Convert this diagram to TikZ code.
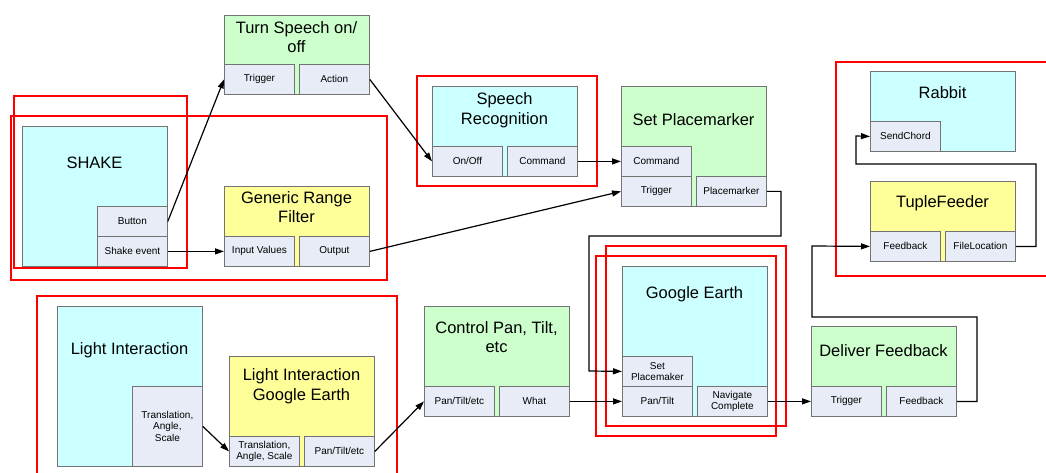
\documentclass[tikz,border=0pt]{standalone}
\usepackage{fontspec}
\setmainfont{Liberation Sans}
\usetikzlibrary{arrows.meta, positioning}

\definecolor{boxline}{RGB}{115,115,115}
\definecolor{cyanfill}{RGB}{204,255,255}
\definecolor{greenfill}{RGB}{204,255,204}
\definecolor{yellowfill}{RGB}{255,255,153}
\definecolor{portfill}{RGB}{231,236,246}

\begin{document}
\begin{tikzpicture}[x=1pt, y=-1pt,
    module/.style={draw=boxline, line width=0.8pt, anchor=north west, minimum width=145pt, inner sep=0pt},
    port/.style={draw=boxline, line width=0.8pt, fill=portfill, anchor=north west, minimum width=70pt, minimum height=30pt, inner sep=1pt, align=center, font=\fontsize{10}{11.5}\selectfont},
    title/.style={align=center, font=\fontsize{16.5}{19.5}\selectfont, inner sep=0pt},
    link/.style={-{Triangle[length=9pt,width=6pt]}, line width=1.2pt},
    frame/.style={draw=red, line width=1.2pt}]
    \useasboundingbox (0,0) rectangle (1046,473);
    \clip (0,0) rectangle (1046,473);

    % modules
    \node[module, fill=cyanfill, minimum height=140pt] (shake) at (22,126) {};
    \node[title] (shakeTitle) at (94.5,163) {SHAKE};
    \node[port] (shakeBtn) at (97,206) {Button};
    \node[port] (shakeEvt) at (97,236) {Shake event};

    \node[module, fill=greenfill, minimum height=79pt] (speech) at (224,15) {};
    \node[title] (speechTitle) at (296.5,37) {Turn Speech on/\\off};
    \node[port] (speechTrig) at (224,64) {Trigger};
    \node[port] (speechAct) at (299,64) {Action};

    \node[module, fill=yellowfill, minimum height=80pt] (grf) at (224,186) {};
    \node[title] (grfTitle) at (296.5,207) {Generic Range\\Filter};
    \node[port] (grfIn) at (224,236) {Input Values};
    \node[port] (grfOut) at (299,236) {Output};

    \node[module, fill=cyanfill, minimum height=90pt] (sr) at (432,86) {};
    \node[title] (srTitle) at (504.5,110) {Speech\\Recognition};
    \node[port] (srOnOff) at (432,146) {On/Off};
    \node[port] (srCmd) at (507,146) {Command};

    \node[module, fill=greenfill, minimum height=120pt] (sp) at (621,86) {};
    \node[title] (spTitle) at (693.5,120) {Set Placemarker};
    \node[port] (spCmd) at (621,146) {Command};
    \node[port] (spTrig) at (621,176) {Trigger};
    \node[port] (spMark) at (696,176) {Placemarker};

    \node[module, fill=cyanfill, minimum height=80pt] (rabbit) at (870,71) {};
    \node[title] (rabbitTitle) at (942.5,93) {Rabbit};
    \node[port] (rabSend) at (870,121) {SendChord};

    \node[module, fill=yellowfill, minimum height=80pt] (tf) at (870,181) {};
    \node[title] (tfTitle) at (942.5,203) {TupleFeeder};
    \node[port] (tfFb) at (870,231) {Feedback};
    \node[port] (tfFile) at (945,231) {FileLocation};

    \node[module, fill=cyanfill, minimum height=150pt] (ge) at (622,266) {};
    \node[title] (geTitle) at (694.5,294) {Google Earth};
    \node[port] (geSet) at (622,356) {Set\\Placemaker};
    \node[port] (gePan) at (622,386) {Pan/Tilt};
    \node[port] (geNav) at (697,386) {Navigate\\Complete};

    \node[module, fill=greenfill, minimum height=110pt] (cpt) at (424,306) {};
    \node[title] (cptTitle) at (496.5,337) {Control Pan, Tilt,\\etc};
    \node[port] (cptPan) at (424,386) {Pan/Tilt/etc};
    \node[port] (cptWhat) at (499,386) {What};

    \node[module, fill=greenfill, minimum height=90pt] (df) at (811,326) {};
    \node[title] (dfTitle) at (883.5,351) {Deliver Feedback};
    \node[port] (dfTrig) at (811,386) {Trigger};
    \node[port] (dfFb) at (886,386) {Feedback};

    \node[module, fill=cyanfill, minimum height=160pt] (li) at (57,306) {};
    \node[title] (liTitle) at (129.5,350) {Light Interaction};
    \node[port, minimum height=80pt] (liOut) at (132,386) {Translation,\\Angle,\\Scale};

    \node[module, fill=yellowfill, minimum height=110pt] (lige) at (229,356) {};
    \node[title] (ligeTitle) at (301.5,386) {Light Interaction\\Google Earth};
    \node[port] (ligeIn) at (229,436) {Translation,\\Angle, Scale};
    \node[port] (ligePan) at (304,436) {Pan/Tilt/etc};

    % red frames
    \draw[frame] (14,96) rectangle (187,268);
    \draw[frame] (11,116) rectangle (387,280);
    \draw[frame] (417,76) rectangle (597,186);
    \draw[frame] (37,296) rectangle (397,480);
    \draw[frame] (606,246) rectangle (786,426);
    \draw[frame] (596,256) rectangle (776,436);
    \draw[frame] (836,62) rectangle (1060,276);

    % connectors
    \draw[link] (shakeBtn.east) -- (speechTrig.west);
    \draw[link] (shakeEvt.east) -- (grfIn.west);
    \draw[link] (speechAct.east) -- (srOnOff.west);
    \draw[link] (srCmd.east) -- (spCmd.west);
    \draw[link] (grfOut.east) -- (spTrig.west);
    \draw[link] (spMark.east) -| (781,236) -| (589,371) -- (geSet.west);
    \draw[link] (liOut.east) -- (ligeIn.west);
    \draw[link] (ligePan.east) -- (cptPan.west);
    \draw[link] (cptWhat.east) -- (gePan.west);
    \draw[link] (geNav.east) -- (dfTrig.west);
    \draw[link] (dfFb.east) -| (977,317) -| (812,246) -- (tfFb.west);
    \draw[link] (tfFile.east) -| (1036,164) -| (856,136) -- (rabSend.west);
\end{tikzpicture}
\end{document}
